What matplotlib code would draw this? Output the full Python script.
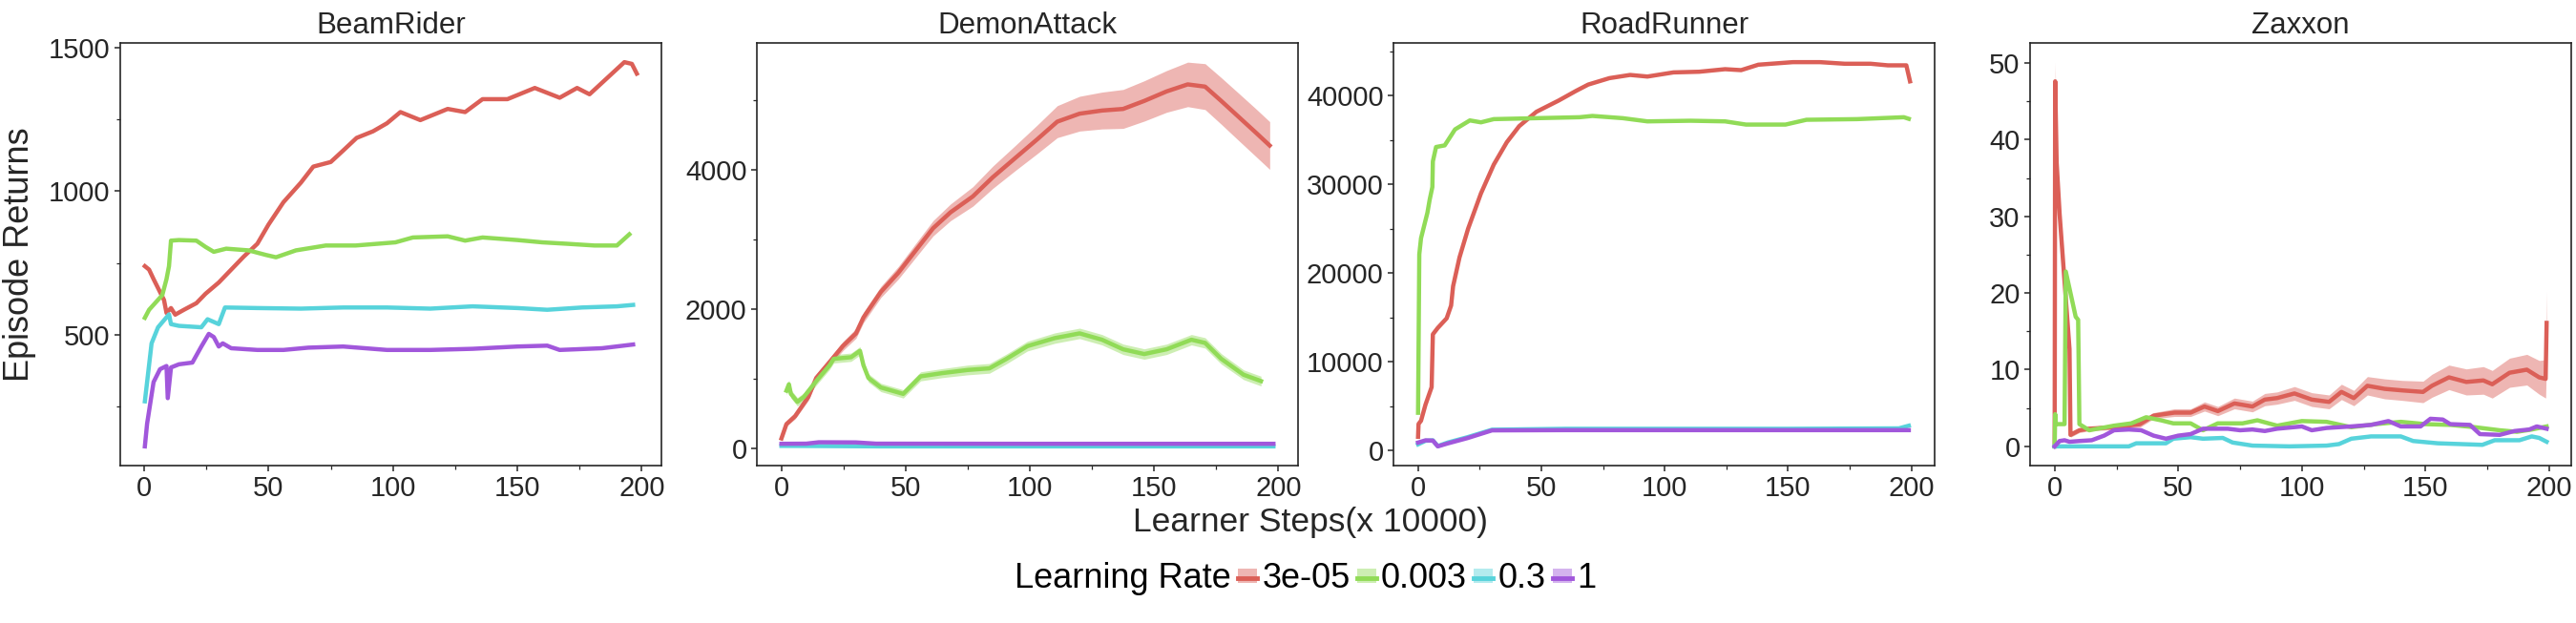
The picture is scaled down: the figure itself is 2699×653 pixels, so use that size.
import matplotlib.pyplot as plt
import numpy as np
from matplotlib.ticker import MultipleLocator
from matplotlib.lines import Line2D
from matplotlib.patches import Patch

plt.rcParams['font.family'] = ['Liberation Sans', 'DejaVu Sans']

games = ['BeamRider', 'DemonAttack', 'RoadRunner', 'Zaxxon']
learning_rates = ['3e-05', '0.003', '0.3', '1']
colors = ['#db5f57', '#91db57', '#57d3db', '#a157db']

# ---- BeamRider ----
beam_x_3e5 = [0.3, 2, 3.8, 8, 9, 10.8, 12.5, 16, 21, 24.7, 30, 35, 40, 45.5, 50, 56, 63, 68, 75, 80, 85.4, 92,
              97.6, 103, 111, 122, 129, 136, 146, 157, 167, 174, 179, 188, 193, 196, 198]
beam_y_3e5 = [739, 727, 694, 621, 576, 593, 570, 587, 610, 643, 682, 727, 772, 817, 884, 962, 1030, 1086, 1102,
              1142, 1186, 1209, 1237, 1276, 1248, 1287, 1276, 1321, 1321, 1360, 1326, 1360, 1338, 1410, 1450,
              1444, 1410]
beam_x_003 = [0.3, 2, 7.3, 9, 10, 10.8, 14, 21, 24.7, 28, 33, 42, 49, 53, 61, 73, 85, 101, 108, 122, 129, 136,
              150, 160, 170, 181, 190, 195]
beam_y_003 = [559, 587, 638, 694, 739, 828, 830, 828, 806, 789, 800, 794, 778, 770, 794, 811, 811, 822, 839,
              843, 828, 839, 830, 822, 817, 811, 811, 850]
beam_x_03 = [0.3, 1.2, 3, 5.6, 10, 10.8, 14, 23, 25.5, 30, 32.5, 45.5, 63, 80, 97.6, 115, 132, 150, 162, 176,
             190, 196.5]
beam_y_03 = [268, 335, 470, 526, 571, 537, 531, 526, 554, 537, 595, 593, 591, 595, 595, 591, 599, 593, 587,
             595, 599, 604]
beam_x_1 = [0.3, 1.2, 3.8, 6.4, 9, 9.5, 10.8, 14, 19.4, 23, 26, 28, 30, 31.6, 35, 45.5, 56, 66, 80, 97.6, 115,
            132, 150, 162, 167, 184, 196.5]
beam_y_1 = [111, 190, 335, 380, 391, 279, 386, 397, 403, 459, 503, 492, 459, 470, 453, 447, 447, 455, 459, 447,
            447, 451, 459, 462, 447, 453, 466]

# ---- DemonAttack ----
demon_x_3e5 = [0, 2, 5.5, 10.8, 14, 19.4, 24.7, 30, 33, 40, 47, 54, 61, 68, 77, 85, 94, 103, 111, 120, 129,
               137.5, 146, 155, 163.5, 170.5, 177, 184, 191, 196.5]
demon_y_3e5 = [137, 343, 458, 733, 1007, 1236, 1465, 1648, 1877, 2244, 2518, 2839, 3159, 3388, 3617, 3892, 4167,
               4441, 4693, 4808, 4853, 4876, 4991, 5128, 5229, 5197, 4991, 4762, 4533, 4350]
demon_sd_3e5 = [20, 30, 40, 50, 55, 60, 65, 70, 75, 80, 90, 100, 110, 120, 140, 160, 180, 206, 230, 250, 265,
                280, 290, 300, 320, 330, 335, 340, 343, 343]
demon_x_003 = [2, 3, 3.8, 6.4, 9, 14, 19.4, 21, 28, 31.6, 33, 35, 40, 49, 56, 64.6, 75, 83.7, 90.6, 99, 110, 120,
               129, 137.5, 146, 155, 165, 170.5, 177, 186, 193]
demon_y_003 = [824, 916, 778, 664, 733, 962, 1190, 1282, 1305, 1397, 1190, 1007, 870, 778, 1030, 1076, 1122,
               1145, 1282, 1465, 1580, 1648, 1557, 1419, 1351, 1419, 1557, 1511, 1282, 1053, 962]
demon_sd_003 = [60, 60, 60, 60, 60, 60, 60, 60, 60, 60, 60, 60, 60, 60, 65, 65, 70, 70, 70, 70, 75, 75, 75, 75,
                75, 75, 75, 75, 75, 70, 70]
demon_x_03 = [0, 15, 30, 40, 100, 198]
demon_y_03 = [30, 28, 25, 23, 23, 23]
demon_x_1 = [0, 10, 15, 30, 38, 100, 198]
demon_y_1 = [60, 62, 82, 80, 62, 60, 60]

# ---- RoadRunner ----
road_x_3e5 = [0, 0.2, 1.2, 3, 5.5, 6, 8, 11.6, 13.4, 14.2, 16.8, 20.3, 25.5, 30.7, 36, 41, 48, 57, 64, 69, 77.6,
              86, 93, 103.6, 114, 124.5, 131, 138, 152, 163, 173, 183.5, 190.5, 198, 199.5]
road_y_3e5 = [1552, 3000, 3357, 5162, 7148, 13105, 13827, 14910, 16354, 18520, 21769, 25018, 28989, 32238, 34765,
              36570, 38195, 39458, 40541, 41263, 41986, 42347, 42166, 42635, 42708, 42996, 42888, 43502, 43790,
              43790, 43610, 43610, 43430, 43430, 41625]
road_x_003 = [0, 0.5, 1.2, 3.8, 4.7, 5.8, 6, 7.3, 10.8, 15, 21, 25.5, 30.7, 48, 65.5, 70.7, 83, 93, 110.6, 124.5,
              133, 149, 157.5, 178, 197, 199]
road_y_003 = [4260, 22130, 23935, 26823, 28267, 29711, 32599, 34224, 34404, 36209, 37220, 37004, 37365, 37473,
              37581, 37725, 37473, 37112, 37184, 37112, 36751, 36751, 37292, 37365, 37581, 37400]
road_x_03 = [0, 3, 6, 8, 12, 20, 30, 60, 100, 150, 195, 199]
road_y_03 = [700, 1100, 1150, 500, 900, 1500, 2350, 2450, 2450, 2450, 2500, 2800]
road_x_1 = [0, 3, 6, 8, 12, 20, 30, 60, 100, 150, 199]
road_y_1 = [900, 1150, 1120, 470, 800, 1400, 2274, 2300, 2300, 2300, 2300]

# ---- Zaxxon ----
zax_x_3e5 = [0, 0.2, 0.8, 2, 6, 6.4, 10, 13.7, 24, 34.5, 40, 48.4, 55, 60.6, 66, 72.7, 80, 85, 90, 97, 104, 111,
             116, 121, 126.5, 133.5, 140.5, 149, 152.6, 159.5, 166.5, 173.4, 177, 184, 191, 196, 198.6, 199]
zax_y_3e5 = [0, 47.6, 37, 30.3, 12.7, 1.5, 2.1, 2.3, 2.5, 2.9, 4.0, 4.4, 4.4, 5.2, 4.6, 5.6, 5.2, 6.1, 6.3, 6.9,
             6.1, 5.8, 7.1, 6.3, 7.9, 7.5, 7.3, 7.1, 7.9, 9.0, 8.4, 8.6, 8.1, 9.6, 10.0, 9.0, 8.8, 16.1]
zax_sd_3e5 = [0, 2.5, 1.5, 1.0, 0.6, 0.3, 0.3, 0.3, 0.3, 0.4, 0.4, 0.5, 0.5, 0.6, 0.6, 0.7, 0.7, 0.8, 0.8, 0.9,
              0.9, 0.9, 1.0, 1.0, 1.2, 1.3, 1.3, 1.4, 1.5, 1.6, 1.7, 1.8, 1.8, 1.9, 2.0, 2.2, 2.5, 4.2]
zax_x_003 = [0, 0.2, 0.5, 4, 4.5, 8.5, 9.5, 10, 14, 24, 31, 37, 43, 48, 55, 60, 66, 76, 82, 90, 100, 110, 120,
             130, 140, 150, 160, 170, 180, 187, 193, 199]
zax_y_003 = [0, 4.2, 2.9, 2.9, 22.8, 16.9, 16.5, 2.9, 2.1, 2.7, 3.0, 3.8, 3.4, 3.0, 3.0, 2.1, 3.0, 3.0, 3.4, 2.7,
             3.3, 3.2, 2.5, 2.9, 3.2, 2.9, 2.8, 2.5, 2.1, 1.9, 2.2, 2.6]
zax_x_03 = [0, 30, 33, 45, 48, 55, 60, 68, 72, 80, 95, 110, 115, 120, 128, 140, 145, 155, 173, 178, 188, 193,
            196, 199]
zax_y_03 = [0, 0, 0.4, 0.4, 1.0, 1.2, 1.0, 1.1, 0.5, 0.1, 0.0, 0.1, 0.3, 1.0, 1.3, 1.3, 0.7, 0.4, 0.2, 0.8, 0.8,
            1.3, 1.1, 0.6]
zax_x_1 = [0, 2, 4, 6, 10, 15, 20, 24, 30, 35, 40, 45, 50, 55, 60, 65, 70, 75, 80, 85, 90, 100, 104, 110, 120,
           128, 135, 140, 148, 152, 157, 160, 168, 172, 180, 186, 192, 195, 199]
zax_y_1 = [0, 0.7, 0.8, 0.6, 0.7, 0.8, 1.4, 2.1, 2.2, 2.1, 1.4, 1.0, 1.4, 1.6, 2.3, 2.3, 2.3, 2.1, 2.2, 2.0, 2.3,
           2.6, 2.1, 2.4, 2.6, 2.8, 3.3, 2.6, 2.6, 3.6, 3.5, 2.9, 2.8, 1.6, 1.5, 2.0, 2.2, 2.6, 2.3]

series = {
    'BeamRider': [(beam_x_3e5, beam_y_3e5, None), (beam_x_003, beam_y_003, None),
                  (beam_x_03, beam_y_03, None), (beam_x_1, beam_y_1, None)],
    'DemonAttack': [(demon_x_3e5, demon_y_3e5, demon_sd_3e5), (demon_x_003, demon_y_003, demon_sd_003),
                    (demon_x_03, demon_y_03, None), (demon_x_1, demon_y_1, None)],
    'RoadRunner': [(road_x_3e5, road_y_3e5, None), (road_x_003, road_y_003, None),
                   (road_x_03, road_y_03, None), (road_x_1, road_y_1, None)],
    'Zaxxon': [(zax_x_3e5, zax_y_3e5, zax_sd_3e5), (zax_x_003, zax_y_003, None),
               (zax_x_03, zax_y_03, None), (zax_x_1, zax_y_1, None)],
}
y_major = {'BeamRider': 500, 'DemonAttack': 2000, 'RoadRunner': 10000, 'Zaxxon': 10}

W, H = 2699, 653
fig = plt.figure(figsize=(W / 100, H / 100), dpi=100)
lefts = [126, 793, 1460, 2127]
text_col = '#262626'

for game, left in zip(games, lefts):
    ax = fig.add_axes([left / W, 1 - 488 / H, 567 / W, 443 / H])
    for (x, y, sd), c in zip(series[game], colors):
        x = np.array(x)
        y = np.array(y, dtype=float)
        if sd is not None:
            sd = np.array(sd, dtype=float)
            ax.fill_between(x, y - sd, y + sd, color=c, alpha=0.45, lw=0)
        ax.plot(x, y, color=c, lw=3.2)
    ax.set_title(game, fontsize=22.5, color=text_col, pad=7)
    ax.xaxis.set_major_locator(MultipleLocator(50))
    ax.xaxis.set_minor_locator(MultipleLocator(25))
    ax.yaxis.set_major_locator(MultipleLocator(y_major[game]))
    ax.yaxis.set_minor_locator(MultipleLocator(y_major[game] / 2))
    ax.tick_params(which='major', labelsize=21, labelcolor=text_col, color=text_col, length=4.5, width=1.1,
                   pad=3)
    ax.tick_params(which='minor', color=text_col, length=3, width=0.9)
    for sp in ax.spines.values():
        sp.set_color(text_col)
        sp.set_linewidth(1.2)
    if game == 'BeamRider':
        ax.set_ylabel('Episode Returns', fontsize=26, color=text_col, labelpad=9)

fig.text(1373 / W, 1 - 557 / H, 'Learner Steps(x 10000)', fontsize=25.5, color=text_col,
         ha='center', va='baseline')

handles = [Line2D([], [], color='none')]
labels = ['Learning Rate']
for c, lr in zip(colors, learning_rates):
    handles.append((Patch(facecolor=c, alpha=0.45, lw=0), Line2D([], [], color=c, lw=3.5)))
    labels.append(lr)
fig.legend(handles, labels, loc='center', bbox_to_anchor=(1355 / W, 1 - 607 / H), ncol=5, frameon=False,
           fontsize=26, handlelength=0.55, handleheight=0.25, handletextpad=0.15, columnspacing=0.2,
           borderpad=0)

fig.savefig('out.png', dpi=100)
